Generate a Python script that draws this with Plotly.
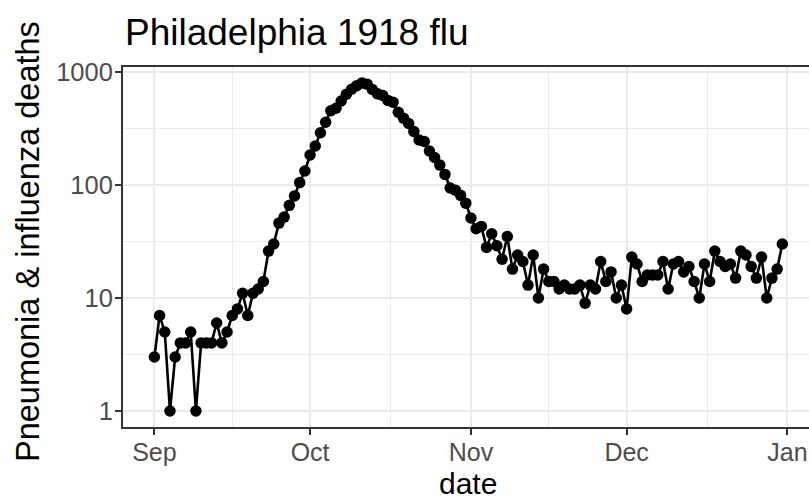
import plotly.graph_objects as go
import pandas as pd

# ---- data ----
start_date = "1918-09-01"
deaths = [
    3, 7, 5, 1, 3, 4, 4, 5, 1, 4,
    4, 4, 6, 4, 5, 7, 8, 11, 7, 11,
    12, 14, 26, 30, 46, 52, 66, 80, 105, 133,
    184, 221, 290, 359, 454, 477, 554, 635, 703, 757,
    800, 780, 700, 640, 620, 560, 540, 440, 390, 350,
    298, 250, 243, 200, 175, 150, 124, 94, 90, 81,
    69, 51, 41, 43, 28, 37, 29, 22, 35, 18,
    24, 21, 13, 24, 10, 18, 14, 14, 12, 13,
    12, 12, 13, 9, 13, 12, 21, 14, 17, 10,
    13, 8, 23, 20, 14, 16, 16, 16, 21, 12,
    20, 21, 17, 19, 14, 10, 20, 14, 26, 21,
    19, 20, 15, 26, 24, 19, 15, 23, 10, 15,
    18, 30,
]
dates = pd.date_range(start_date, periods=len(deaths), freq="D")

month_ticks = ["1918-09-01", "1918-10-01", "1918-11-01", "1918-12-01", "1919-01-01"]
month_labels = ["Sep", "Oct", "Nov", "Dec", "Jan"]
minor_x_ticks = ["1918-09-16", "1918-10-16 12:00", "1918-11-16", "1918-12-16 12:00"]
y_ticks = [1, 10, 100, 1000]
y_labels = ["1", "10", "100", "1000"]
y_minor = [10 ** 0.5, 10 ** 1.5, 10 ** 2.5]

title_text = "Philadelphia 1918 flu"
x_title = "date"
y_title = "Pneumonia & influenza deaths"

# ---- layout geometry ----
W, H = 809, 502
ML, MR, MT, MB = 123, 0, 67, 75
PW, PH = W - ML - MR, H - MT - MB

span_days = (dates[-1] - dates[0]).days
pad = pd.Timedelta(days=span_days * 0.05)
x0 = dates[0] - pad
full_px = 690.7
x1 = x0 + (dates[-1] + pad - x0) * (PW / full_px)

FONT = "Liberation Sans, Arial, sans-serif"
GRID = "#EBEBEB"
DARK = "#333333"

fig = go.Figure()
fig.add_trace(go.Scatter(
    x=dates, y=deaths, mode="lines+markers",
    line=dict(color="black", width=2.6),
    marker=dict(color="black", size=11.5),
    showlegend=False, cliponaxis=False,
))

fig.update_layout(
    width=W, height=H,
    margin=dict(l=ML, r=MR, t=MT, b=MB, pad=0),
    paper_bgcolor="white", plot_bgcolor="white",
    font=dict(family=FONT, color="black"),
    xaxis=dict(
        type="date", range=[x0, x1],
        tickmode="array", tickvals=month_ticks, ticktext=month_labels,
        showgrid=True, gridcolor=GRID, gridwidth=2.4,
        minor=dict(tickmode="array", tickvals=minor_x_ticks, showgrid=True,
                   gridcolor=GRID, gridwidth=1.2, ticks=""),
        showline=True, mirror=True, linecolor=DARK, linewidth=2,
        ticks="outside", ticklen=6, tickwidth=2, tickcolor=DARK,
        ticklabelstandoff=-4,
        tickfont=dict(family=FONT, size=25, color="#4D4D4D"),
        zeroline=False,
    ),
    yaxis=dict(
        type="log", range=[-0.142, 3.044],
        tickmode="array", tickvals=y_ticks, ticktext=y_labels,
        showgrid=True, gridcolor=GRID, gridwidth=2.4,
        minor=dict(tickmode="array", tickvals=y_minor, showgrid=True,
                   gridcolor=GRID, gridwidth=1.2, ticks=""),
        showline=True, mirror=False, linecolor=DARK, linewidth=2,
        ticks="outside", ticklen=6, tickwidth=2, tickcolor=DARK,
        ticklabelstandoff=-3,
        tickfont=dict(family=FONT, size=25.5, color="#4D4D4D"),
        zeroline=False,
    ),
    annotations=[
        dict(text=title_text, xref="paper", yref="paper",
             x=0, y=(H - MB - 33) / PH, xanchor="left", yanchor="middle",
             showarrow=False, font=dict(family=FONT, size=37, color="black")),
        dict(text=x_title, xref="paper", yref="paper",
             x=(468 - ML) / PW, y=-(484 - (H - MB)) / PH,
             xanchor="center", yanchor="middle",
             showarrow=False, font=dict(family=FONT, size=30, color="black")),
        dict(text=y_title, xref="paper", yref="paper",
             x=(28 - ML) / PW, y=((H - MB) - 242) / PH, textangle=-90,
             xanchor="center", yanchor="middle",
             showarrow=False, font=dict(family=FONT, size=32.5, color="black")),
    ],
)

fig.write_html("out.html")
